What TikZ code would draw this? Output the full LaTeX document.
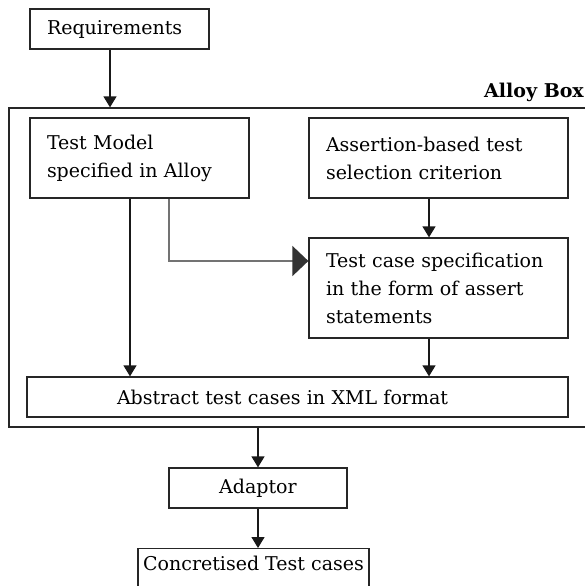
\documentclass[tikz,border=0pt]{standalone}
\usepackage{fontspec}
\setmainfont{DejaVu Serif}
\usetikzlibrary{arrows.meta}
\tikzstyle{stage}=[rectangle,draw=black!85,line width=1.3pt,inner xsep=17pt,align=left,font=\fontsize{19}{28}\selectfont]
\tikzstyle{container}=[rectangle,draw=black!85,line width=1.3pt]
\tikzstyle{flow}=[-{Triangle[length=11pt,width=13pt]},draw=black!90,line width=1.3pt]
\tikzstyle{feed}=[-{Triangle[length=16pt,width=30pt,color=black!80]},draw=black!55,line width=2pt]

\begin{document}
\begin{tikzpicture}[x=1pt,y=-1pt]
    \clip (0,0) rectangle (585,586);
    \node (alloy) at (304.5,267.5) [container,minimum width=591pt,minimum height=319pt] {};
    \node (alloylbl) at (584,97) [anchor=base east,inner sep=0pt,font=\fontsize{19}{22}\selectfont\bfseries] {Alloy Box};

    \node (req) at (119.5,29) [stage,text width=145pt,minimum height=40pt] {Requirements};
    \node (model) at (139.5,158) [stage,text width=185pt,minimum height=80pt] {Test Model\\specified in Alloy};
    \node (assert) at (438.5,158) [stage,text width=225pt,minimum height=80pt] {Assertion-based test\\selection criterion};
    \node (spec) at (438.5,288) [stage,text width=225pt,minimum height=100pt] {Test case specification\\in the form of assert\\statements};
    \node (abstract) at (297.5,397) [stage,inner xsep=90pt,text width=361pt,minimum height=40pt] {Abstract test cases in XML format};
    \node (adaptor) at (258,488) [stage,align=center,minimum width=178pt,minimum height=40pt] {Adaptor};
    \node (conc) at (253.5,548) [stage,align=center,anchor=north,inner xsep=4pt,minimum width=231pt,inner ysep=7pt,text depth=40pt] {Concretised Test cases};

    \draw [flow] ([xshift=-9.5pt]req.south) -- ([xshift=-9.5pt]req.south |- alloy.north);
    \draw [flow] ([xshift=-9.5pt]model.south) -- ([xshift=-9.5pt]model.south |- abstract.north);
    \draw [feed] ([xshift=29.5pt]model.south) |- ([yshift=27pt]spec.west);
    \draw [flow] ([xshift=-9.5pt]assert.south) -- ([xshift=-9.5pt]assert.south |- spec.north);
    \draw [flow] ([xshift=-9.5pt]spec.south) -- ([xshift=-9.5pt]spec.south |- abstract.north);
    \draw [flow] (alloy.south -| adaptor.north) -- (adaptor.north);
    \draw [flow] (adaptor.south) -- (adaptor.south |- conc.north);
\end{tikzpicture}
\end{document}
